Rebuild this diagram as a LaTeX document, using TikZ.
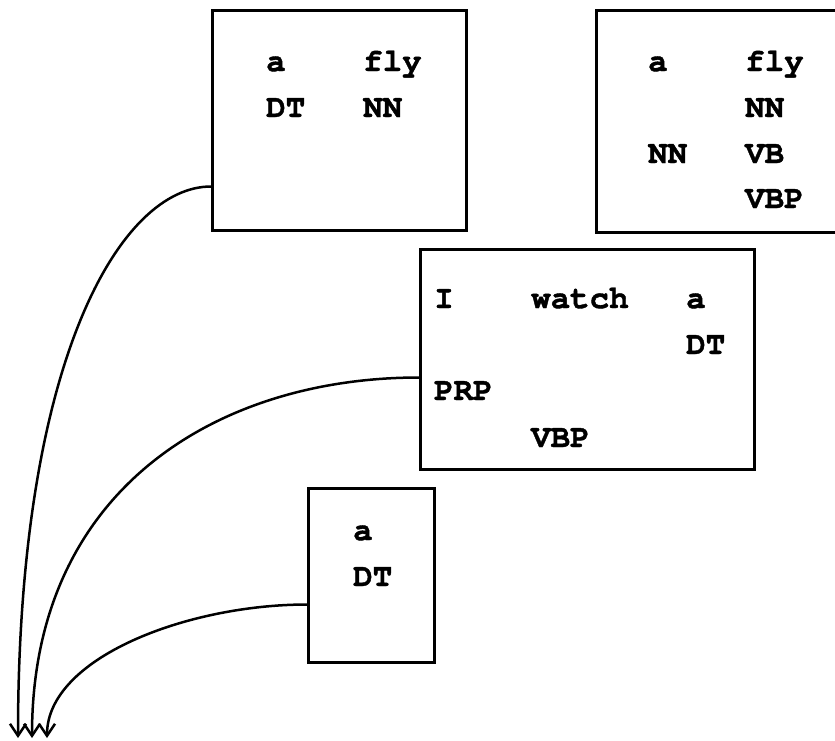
\documentclass[tikz,border=0pt]{standalone}
\usepackage{fontspec}
\setmonofont{texgyrecursor-regular.otf}[BoldFont=texgyrecursor-bold.otf, BoldFeatures={FakeBold=1.2}, Ligatures=NoCommon]
\usetikzlibrary{arrows.meta}
\tikzset{
  box/.style={draw, line width=2.5pt, anchor=north west, inner sep=0pt},
  lbl/.style={anchor=base west, inner sep=0pt, font=\ttfamily\bfseries\fontsize{32.5}{32}\selectfont},
  conn/.style={line width=2.5pt, -{Straight Barb[length=12pt,width=16pt,line width=2.5pt]}},
}
\begin{document}
\begin{tikzpicture}[x=1pt,y=-1pt]
\useasboundingbox (0,0) rectangle (835,740);
% boxes
\node[box, minimum width=254pt, minimum height=220pt] (b1) at (211,9) {};
\node[box, minimum width=245pt, minimum height=222pt] (b2) at (595,9) {};
\node[box, minimum width=334pt, minimum height=220pt] (b3) at (419,248) {};
\node[box, minimum width=126pt, minimum height=174pt] (b4) at (307,487) {};
% box 1
\node[lbl] (t1a) at (266,71) {a};
\node[lbl] (t1b) at (363,71) {fly};
\node[lbl] (t1c) at (266,117) {DT};
\node[lbl] (t1d) at (363,117) {NN};
% box 2
\node[lbl] (t2a) at (648,71) {a};
\node[lbl] (t2b) at (745,71) {fly};
\node[lbl] (t2c) at (745,117) {NN};
\node[lbl] (t2d) at (648,163) {NN};
\node[lbl] (t2e) at (745,163) {VB};
\node[lbl] (t2f) at (745,208) {VBP};
% box 3
\node[lbl] (t3a) at (434,308) {I};
\node[lbl] (t3b) at (531,308) {watch};
\node[lbl] (t3c) at (686,308) {a};
\node[lbl] (t3d) at (686,354) {DT};
\node[lbl] (t3e) at (434,400) {PRP};
\node[lbl] (t3f) at (531,447) {VBP};
% box 4
\node[lbl] (t4a) at (353,540) {a};
\node[lbl] (t4b) at (353,586) {DT};
% connector ends
\coordinate (s1) at ([yshift=45pt]b1.south west);
\coordinate (s3) at ([yshift=93pt]b3.south west);
\coordinate (s4) at ([yshift=59pt]b4.south west);
\coordinate (e1) at (18,738);
\coordinate (e3) at (32,738);
\coordinate (e4) at (47,738);
\draw[conn] (s1) .. controls ([xshift=-90pt]s1) and ([yshift=380pt]e1) .. (e1);
\draw[conn] (s3) .. controls ([xshift=-200pt]s3) and ([yshift=250pt]e3) .. (e3);
\draw[conn] (s4) .. controls ([xshift=-120pt]s4) and ([yshift=80pt]e4) .. (e4);
\end{tikzpicture}
\end{document}
